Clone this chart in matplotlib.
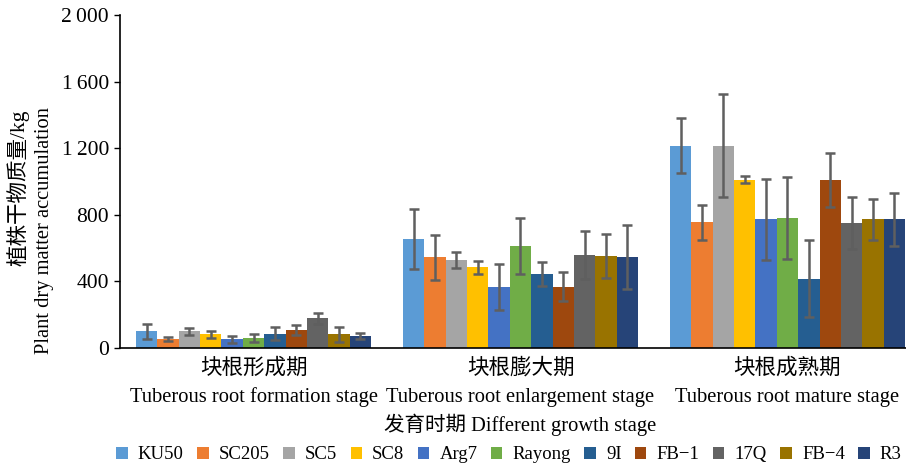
import matplotlib
matplotlib.use("Agg")
import matplotlib.pyplot as plt
import matplotlib.transforms as mtransforms
import numpy as np

plt.rcParams['font.family'] = ['Liberation Serif', 'Noto Sans CJK SC']

stages_cn = ["块根形成期", "块根膨大期", "块根成熟期"]
stages_en = ["Tuberous root formation stage", "Tuberous root enlargement stage",
             "Tuberous root mature stage"]
varieties = ["KU50", "SC205", "SC5", "SC8", "Arg7", "Rayong", "9I", "FB\u22121", "17Q", "FB\u22124", "R3"]

# values per variety: [formation, enlargement, mature]
means = [
    [100, 655, 1216],
    [56, 546, 754],
    [100, 528, 1216],
    [82, 484, 1012],
    [54, 368, 772],
    [62, 612, 782],
    [86, 446, 416],
    [106, 368, 1008],
    [178, 556, 748],
    [82, 552, 772],
    [74, 546, 772],
]
errors = [
    [46, 181, 167],
    [12, 135, 103],
    [21, 49, 307],
    [19, 41, 20],
    [21, 138, 242],
    [24, 169, 248],
    [40, 72, 231],
    [30, 86, 164],
    [31, 144, 156],
    [43, 133, 125],
    [19, 193, 159],
]
colors = ["#5B9BD5", "#ED7D31", "#A5A5A5", "#FFC000", "#4472C4", "#70AD47",
          "#255E91", "#9E480E", "#636363", "#997300", "#264478"]

fig = plt.figure(figsize=(9.06, 4.69), dpi=100)
ax = fig.add_axes([0.1325, 0.258, 0.8675, 0.710])

x = np.arange(len(stages_cn))
n = len(varieties)
w = 0.08
for i in range(n):
    pos = x + (i - (n - 1) / 2) * w
    ax.bar(pos, means[i], width=w, color=colors[i], label=varieties[i],
           yerr=errors[i], error_kw=dict(ecolor="#5f5f5f", elinewidth=1.8,
                                         capsize=3.5, capthick=1.8))

ax.set_xlim(-0.5, 2.444)
ax.set_ylim(0, 2000)
ax.set_yticks([0, 400, 800, 1200, 1600, 2000])
ax.set_yticklabels(["0", "400", "800", "1\u2009200", "1\u2009600", "2\u2009000"], fontsize=15.5)
ax.set_xticks([])
ax.tick_params(axis="y", length=4, width=1, direction="out", pad=4)
for s in ["top", "right"]:
    ax.spines[s].set_visible(False)
ax.spines["left"].set_linewidth(1.2)
ax.spines["bottom"].set_linewidth(1.2)

# category labels (two lines each)
trans = mtransforms.blended_transform_factory(ax.transData, ax.transAxes)
for xi, cn, en in zip(x, stages_cn, stages_en):
    ax.text(xi, -0.06, cn, transform=trans, ha="center", va="center", fontsize=15.5)
    ax.text(xi, -0.148, en, transform=trans, ha="center", va="center", fontsize=14.8)
ax.text(1, -0.232, "发育时期 Different growth stage", transform=trans,
        ha="center", va="center", fontsize=14.8)

# y axis title (two rotated lines)
fig.text(18 / 906, 1 - 188 / 469, "植株干物质量/kg", rotation=90,
         ha="center", va="center", fontsize=15.5)
fig.text(45 / 906, 1 - 230 / 469, "Plant dry matter accumulation", rotation=90,
         ha="center", va="center", fontsize=14.8)

ax.legend(loc="center", bbox_to_anchor=(0.495, -0.321), ncol=n, frameon=False,
          fontsize=13.5, handlelength=0.6, handleheight=0.6, handletextpad=0.55,
          columnspacing=0.72, borderpad=0, borderaxespad=0)

fig.savefig("out.png", dpi=100)
